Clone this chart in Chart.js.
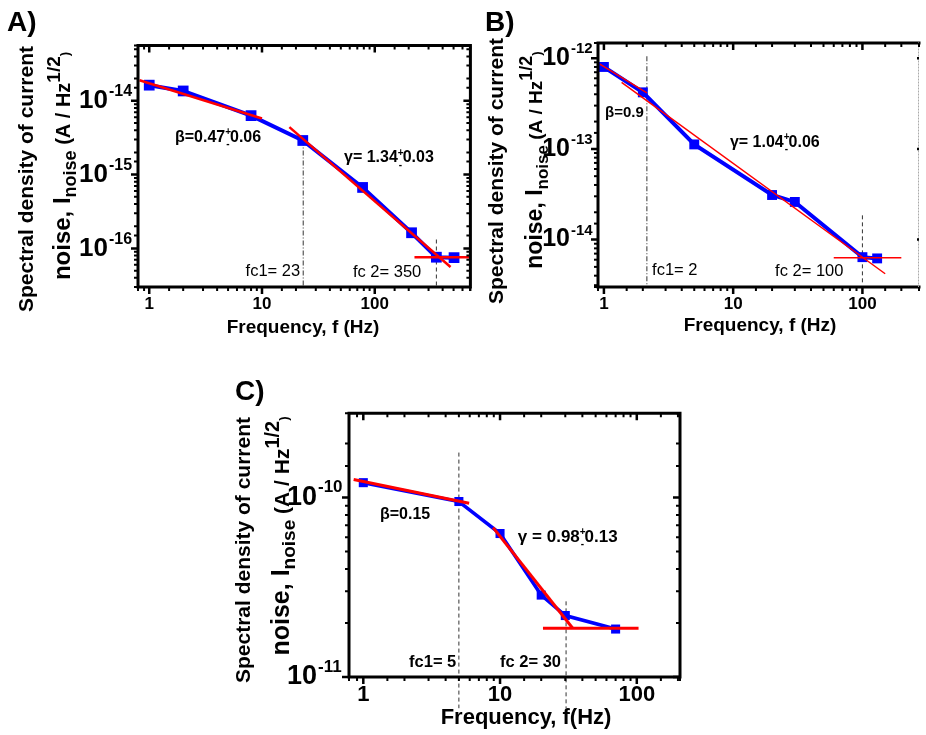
<!DOCTYPE html>
<html><head><meta charset="utf-8">
<script src="https://cdn.jsdelivr.net/npm/chart.js@4.4.0/dist/chart.umd.min.js"></script>
<style>
html,body{margin:0;padding:0;background:#fff;width:926px;height:735px;overflow:hidden;position:relative}
canvas{position:absolute}
</style></head><body>
<canvas id="cA" width="478" height="345" style="left:0px;top:0px"></canvas>
<canvas id="cB" width="448" height="345" style="left:478px;top:0px"></canvas>
<canvas id="cC" width="480" height="370" style="left:215px;top:365px"></canvas>
<script>
// ---------- data ----------
// Panel A
const freqA  = [1, 2, 8, 23, 78, 212, 352, 505];
const noiseA = [1.63e-14, 1.36e-14, 6.3e-15, 2.9e-15, 6.7e-16, 1.63e-16, 7.6e-17, 7.5e-17];
const fitBetaAx  = [0.82, 10];    const fitBetaAy  = [1.9e-14, 5.75e-15];
const fitGammaAx = [17.5, 470];   const fitGammaAy = [4.4e-15, 5.6e-17];
const fitFlatAx  = [225, 720];    const fitFlatAy  = [7.6e-17, 7.6e-17];
const cornerA    = [23.2, 352];   const cornerTopA = [2.9e-15, 1.32e-16];
// Panel B
const freqB  = [1, 2, 5, 20, 30, 100, 130];
const noiseB = [8.0e-13, 4.2e-13, 1.12e-13, 3.1e-14, 2.6e-14, 6.4e-15, 6.2e-15];
const fitBetaBx  = [0.93, 2.15];  const fitBetaBy  = [8.6e-13, 4.15e-13];
const fitGammaBx = [1.37, 150];   const fitGammaBy = [5.4e-13, 4.2e-15];
const fitFlatBx  = [60, 200];     const fitFlatBy  = [6.3e-15, 6.3e-15];
const cornerB    = [2.15, 100];   const cornerTopB = [1.05e-12, 1.85e-14];
// Panel C
const freqC  = [1, 5, 10, 20, 30, 70];
const noiseC = [1.21e-10, 9.5e-11, 6.3e-11, 2.86e-11, 2.2e-11, 1.85e-11];
const fitBetaCx  = [0.85, 5.94];  const fitBetaCy  = [1.26e-10, 9.3e-11];
const fitGammaCx = [8.9, 34];     const fitGammaCy = [6.8e-11, 1.87e-11];
const fitFlatCx  = [20.6, 103];   const fitFlatCy  = [1.87e-11, 1.87e-11];
const cornerC    = [5, 30.4];     const cornerTopC = [1.78e-10, 2.64e-11];
const cornerBottomC = 6.7e-12;
// axis ranges
const rangeA = {xMin: 0.795, xMax: 705, yMin: 3.0e-17, yMax: 5.6e-14};
const rangeB = {xMin: 0.9,   xMax: 274, yMin: 3.14e-15, yMax: 1.47e-12};
const rangeC = {xMin: 0.786, xMax: 207, yMin: 1e-11, yMax: 2.95e-10};

// ---------- helpers ----------
const FONT = '"Liberation Sans", Arial, sans-serif';
Chart.defaults.font.family = FONT;
function isPow10(v){ if(!(v>0)) return false; const l = Math.log10(v); return Math.abs(l - Math.round(l)) < 1e-6; }
function pts(xs, ys){ return xs.map((x, i) => ({x: x, y: ys[i]})); }
function f(size, bold){ return (bold ? 'bold ' : '') + size + 'px ' + FONT; }

function drawRich(ctx, segs, cx, cy, rot){
  ctx.save(); ctx.translate(cx, cy); ctx.rotate(rot);
  let total = 0;
  segs.forEach(s => { ctx.font = s.font; s.w = ctx.measureText(s.text).width; total += s.w; });
  let x = -total / 2;
  ctx.textBaseline = 'alphabetic'; ctx.textAlign = 'left'; ctx.fillStyle = '#000';
  segs.forEach(s => { ctx.font = s.font; ctx.fillText(s.text, x, s.dy || 0); x += s.w; });
  ctx.restore();
}

const panelPlugin = {
  id: 'panelDeco',
  afterDraw(chart){
    const P = chart.options.plugins.panelDeco;
    const ctx = chart.ctx, a = chart.chartArea, xs = chart.scales.x, ys = chart.scales.y;
    const ox = P.ox, oy = P.oy;
    ctx.save();
    // frame
    ctx.strokeStyle = '#000'; ctx.lineWidth = 3; ctx.lineCap = 'square';
    ctx.beginPath();
    ctx.moveTo(a.right, a.top); ctx.lineTo(a.left, a.top); ctx.lineTo(a.left, a.bottom); ctx.lineTo(a.right, a.bottom);
    if (P.fullFrame) { ctx.lineTo(a.right, a.top); }
    ctx.stroke();
    if (!P.fullFrame) {
      ctx.save(); ctx.strokeStyle = '#aaa'; ctx.lineWidth = 1; ctx.setLineDash([1,2]);
      ctx.beginPath(); ctx.moveTo(a.right - 0.5, a.top); ctx.lineTo(a.right - 0.5, a.bottom); ctx.stroke(); ctx.restore();
    }
    // ticks
    ctx.lineCap = 'butt';
    xs.ticks.forEach(t => {
      const v = t.value; if (v < xs.min * 0.999 || v > xs.max * 1.001) return;
      const p = xs.getPixelForValue(v), maj = isPow10(v), len = maj ? 7 : 4;
      ctx.lineWidth = maj ? 2.5 : 2;
      ctx.beginPath(); ctx.moveTo(p, a.bottom); ctx.lineTo(p, a.bottom + len);
      ctx.moveTo(p, a.top); ctx.lineTo(p, a.top + len); ctx.stroke();
    });
    ys.ticks.forEach(t => {
      const v = t.value; if (v < ys.min * 0.999 || v > ys.max * 1.001) return;
      const p = ys.getPixelForValue(v), maj = isPow10(v), len = maj ? 7 : 4;
      ctx.lineWidth = maj ? 2.5 : 2;
      ctx.beginPath(); ctx.moveTo(a.left, p); ctx.lineTo(a.left - len, p);
      if (P.fullFrame || maj) { ctx.moveTo(a.right, p); ctx.lineTo(a.right - (P.fullFrame ? len : 2), p); }
      ctx.stroke();
    });
    // y exponents
    ctx.fillStyle = '#000'; ctx.textAlign = 'left'; ctx.textBaseline = 'middle';
    ctx.font = f(P.expFont, true);
    ys.ticks.forEach(t => {
      const v = t.value; if (!isPow10(v) || v < ys.min * 0.999 || v > ys.max * 1.001) return;
      const p = ys.getPixelForValue(v);
      ctx.fillText(String(Math.round(Math.log10(v))), a.left - P.yPad + 1, p + P.expDy);
    });
    // panel letter
    ctx.font = f(28, true); ctx.textBaseline = 'alphabetic';
    ctx.fillText(P.letter, P.letterX - ox, P.letterY - oy);
    // x title
    ctx.font = f(P.xTitleFont, true); ctx.textAlign = 'center'; ctx.textBaseline = 'middle';
    ctx.fillText(P.xTitle, P.xTitleX - ox, P.xTitleY - oy);
    // y title
    const s1 = P.yTitleFont, s2 = P.yTitle2Font;
    drawRich(ctx, [{text: 'Spectral density of current', font: f(s1, true)}], P.yt1x - ox, P.yt1y - oy, -Math.PI/2);
    drawRich(ctx, [
      {text: 'noise, I', font: f(s2, true)},
      {text: 'noise', font: f(s2 - 6, true), dy: 6},
      {text: ' (A / Hz', font: f(s2 - 4, true)},
      {text: '1/2', font: f(s2 - 5, true), dy: -10},
      {text: ')', font: f(13, true), dy: -1}
    ], P.yt2x - ox, P.yt2y - oy, -Math.PI/2);
    // annotations
    ctx.textAlign = 'left'; ctx.textBaseline = 'middle';
    P.notes.forEach(n => {
      let x = xs.getPixelForValue(n.x), y = ys.getPixelForValue(n.y);
      ctx.font = f(n.size, n.bold);
      ctx.fillText(n.pre, x, y); x += ctx.measureText(n.pre).width;
      if (n.post) {
        ctx.font = f(10, true);
        ctx.fillText('+', x, y - 5); ctx.fillText('-', x + 1, y + 7);
        x += ctx.measureText('+').width - 1;
        ctx.font = f(n.size, n.bold);
        ctx.fillText(n.post, x, y);
      }
    });
    ctx.restore();
  }
};

function makePanel(id, R, P, series){
  const datasets = [];
  datasets.push({data: pts(series.fx, series.fy), showLine: true, borderColor: '#0000ff', backgroundColor: '#0000ff',
    borderWidth: P.blueW, pointStyle: 'rect', pointRadius: P.ptR, pointBorderWidth: 0, pointHoverRadius: P.ptR,
    order: 1, clip: false});
  series.fits.forEach(ft => datasets.push({data: pts(ft[0], ft[1]), showLine: true, borderColor: '#ff0000',
    backgroundColor: '#ff0000', borderWidth: P.redW, pointRadius: 0, order: 0}));
  series.cuts.forEach(c => datasets.push({data: pts([c.x, c.x], [c.top, c.bottom]), showLine: true, borderColor: '#333',
    borderWidth: 1, borderDash: c.dash, pointRadius: 0, order: 2, clip: c.clip === false ? false : undefined}));
  return new Chart(document.getElementById(id), {
    type: 'scatter',
    data: {datasets: datasets},
    options: {
      responsive: false, animation: false, devicePixelRatio: 1,
      layout: {padding: P.padding},
      plugins: {legend: {display: false}, tooltip: {enabled: false}, panelDeco: P},
      events: [],
      scales: {
        x: {type: 'logarithmic', min: R.xMin, max: R.xMax,
            grid: {display: false, drawTicks: false}, border: {display: false},
            ticks: {autoSkip: false, maxRotation: 0, minRotation: 0, padding: P.xPad, color: '#000',
                    font: {size: P.xFont, weight: 'bold'},
                    callback: (v) => isPow10(v) ? String(Math.round(v)) : ''},
            afterFit: (s) => { s.height = P.xH; }},
        y: {type: 'logarithmic', min: R.yMin, max: R.yMax,
            grid: {display: false, drawTicks: false}, border: {display: false},
            ticks: {autoSkip: false, padding: P.yPad, color: '#000',
                    font: {size: P.yFont, weight: 'bold'},
                    callback: (v) => isPow10(v) ? '10' : ''},
            afterFit: (s) => { s.width = P.yW; }}
      }
    },
    plugins: [panelPlugin]
  });
}

makePanel('cA', rangeA, {
  ox: 0, oy: 0, padding: {left: 0, top: 42, right: 7, bottom: 0}, yW: 138, xH: 58,
  yFont: 26, yPad: 30, expFont: 16, expDy: -9, xFont: 17, xPad: 7,
  blueW: 4, redW: 2.5, ptR: 7.6, fullFrame: true,
  letter: 'A)', letterX: 7, letterY: 31,
  xTitle: 'Frequency, f (Hz)', xTitleX: 303, xTitleY: 328, xTitleFont: 19,
  yTitleFont: 21, yTitle2Font: 24, yt1x: 33, yt1y: 179, yt2x: 70, yt2y: 166,
  notes: [
    {x: 1.69, y: 3.2e-15, pre: 'β=0.47', post: '0.06', size: 16, bold: true},
    {x: 53.4, y: 1.69e-15, pre: 'γ= 1.34', post: '0.03', size: 16, bold: true},
    {x: 7.15, y: 4.8e-17, pre: 'fc1= 23', size: 16.5, bold: false},
    {x: 64, y: 4.7e-17, pre: 'fc 2= 350', size: 16.5, bold: false}
  ]
}, {
  fx: freqA, fy: noiseA,
  fits: [[fitBetaAx, fitBetaAy], [fitGammaAx, fitGammaAy], [fitFlatAx, fitFlatAy]],
  cuts: [{x: cornerA[0], top: cornerTopA[0], bottom: rangeA.yMin, dash: [5, 2, 1, 2]},
         {x: cornerA[1], top: cornerTopA[1], bottom: rangeA.yMin, dash: [4, 3]}]
});

makePanel('cB', rangeB, {
  ox: 478, oy: 0, padding: {left: 0, top: 37, right: 2, bottom: 0}, yW: 120, xH: 58,
  yFont: 25, yPad: 28, expFont: 15, expDy: -9, xFont: 17, xPad: 7,
  blueW: 4, redW: 1.5, ptR: 7, fullFrame: false,
  letter: 'B)', letterX: 485, letterY: 31,
  xTitle: 'Frequency, f (Hz)', xTitleX: 760, xTitleY: 326, xTitleFont: 19,
  yTitleFont: 21, yTitle2Font: 23, yt1x: 503, yt1y: 171, yt2x: 542, yt2y: 160,
  notes: [
    {x: 1.02, y: 2.52e-13, pre: 'β=0.9', size: 15, bold: true},
    {x: 9.44, y: 1.17e-13, pre: 'γ= 1.04', post: '0.06', size: 16, bold: true},
    {x: 2.36, y: 4.55e-15, pre: 'fc1= 2', size: 16.5, bold: false},
    {x: 21.1, y: 4.5e-15, pre: 'fc 2= 100', size: 16.5, bold: false}
  ]
}, {
  fx: freqB, fy: noiseB,
  fits: [[fitBetaBx, fitBetaBy], [fitGammaBx, fitGammaBy], [fitFlatBx, fitFlatBy]],
  cuts: [{x: cornerB[0], top: cornerTopB[0], bottom: rangeB.yMin, dash: [5, 2, 1, 2]},
         {x: cornerB[1], top: cornerTopB[1], bottom: rangeB.yMin, dash: [4, 3]}]
});

makePanel('cC', rangeC, {
  ox: 215, oy: 365, padding: {left: 0, top: 46, right: 15, bottom: 0}, yW: 134, xH: 58,
  yFont: 27, yPad: 32, expFont: 17, expDy: -10, xFont: 22, xPad: 5,
  blueW: 3.5, redW: 3, ptR: 6.4, fullFrame: true,
  letter: 'C)', letterX: 235, letterY: 400,
  xTitle: 'Frequency, f(Hz)', xTitleX: 526, xTitleY: 718, xTitleFont: 22,
  yTitleFont: 21, yTitle2Font: 25, yt1x: 250, yt1y: 550, yt2x: 289, yt2y: 536,
  notes: [
    {x: 1.325, y: 8.05e-11, pre: 'β=0.15', size: 16, bold: true},
    {x: 13.5, y: 6.0e-11, pre: 'γ = 0.98', post: '0.13', size: 17, bold: true},
    {x: 2.16, y: 1.2e-11, pre: 'fc1= 5', size: 16.5, bold: true},
    {x: 10, y: 1.2e-11, pre: 'fc 2= 30', size: 16.5, bold: true}
  ]
}, {
  fx: freqC, fy: noiseC,
  fits: [[fitBetaCx, fitBetaCy], [fitGammaCx, fitGammaCy], [fitFlatCx, fitFlatCy]],
  cuts: [{x: cornerC[0], top: cornerTopC[0], bottom: cornerBottomC, dash: [4, 3], clip: false},
         {x: cornerC[1], top: cornerTopC[1], bottom: cornerBottomC, dash: [4, 3], clip: false}]
});
</script>
</body></html>
